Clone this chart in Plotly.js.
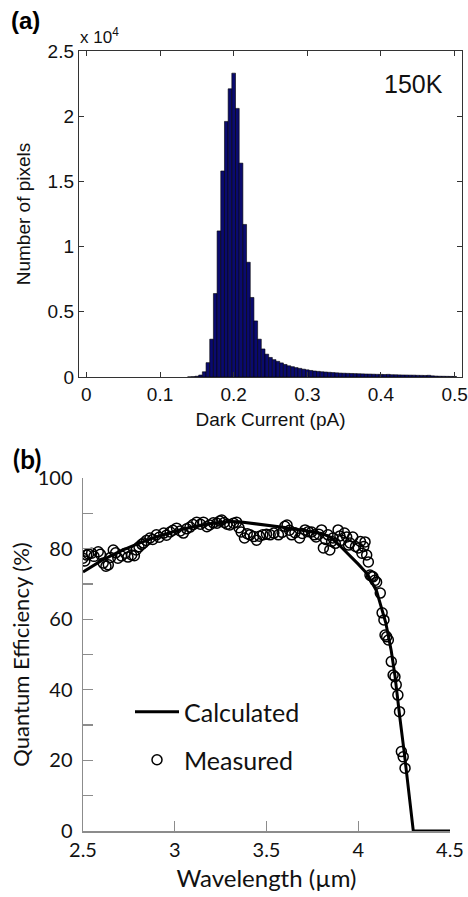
<!DOCTYPE html>
<html>
<head>
<meta charset="utf-8">
<script src="https://cdn.plot.ly/plotly-3.0.1.min.js"></script>
<style>html,body{margin:0;padding:0;background:#fff;}#chart{width:468px;height:897px;}</style>
</head>
<body>
<div id="chart"></div>
<script>
// ---------- Panel (a): dark current histogram at 150K ----------
const histCenters = [0.140,0.145,0.150,0.155,0.160,0.165,0.170,0.175,0.180,0.185,0.190,0.195,0.200,0.205,0.210,0.215,0.220,0.225,0.230,0.235,0.240,0.245,0.250,0.255,0.260,0.265,0.270,0.275,0.280,0.285,0.290,0.295,0.300,0.305,0.310,0.315,0.320,0.325,0.330,0.335,0.340,0.345,0.350,0.355,0.360,0.365,0.370,0.375,0.380,0.385,0.390,0.395,0.400,0.405,0.410,0.415,0.420,0.425,0.430,0.435,0.440,0.445,0.450,0.455,0.460,0.465,0.470,0.475,0.480,0.485,0.490,0.495,0.500];
const histCounts = [10,25,60,150,400,1100,2900,6400,11200,15800,19600,22100,23300,20600,16400,11700,8800,6100,4300,2900,2150,1750,1500,1330,1200,1080,960,860,790,720,660,600,550,500,460,430,400,380,360,340,320,300,290,280,270,260,250,240,230,225,215,205,200,190,200,175,170,160,155,150,145,140,130,125,120,130,90,70,60,55,50,45,40];
const histXTicks = [0,0.1,0.2,0.3,0.4,0.5];
const histXTickText = ['0','0.1','0.2','0.3','0.4','0.5'];
const histYTicks = [0,5000,10000,15000,20000,25000];
const histYTickText = ['0','0.5','1','1.5','2','2.5'];

// ---------- Panel (b): quantum efficiency ----------
const measWavelength = [2.500,2.510,2.520,2.530,2.547,2.560,2.583,2.595,2.610,2.625,2.638,2.650,2.665,2.678,2.690,2.710,2.730,2.745,2.765,2.780,2.790,2.805,2.820,2.830,2.845,2.865,2.880,2.900,2.915,2.940,2.955,2.975,2.990,3.010,3.030,3.047,3.065,3.083,3.100,3.120,3.140,3.156,3.175,3.190,3.210,3.230,3.245,3.256,3.270,3.285,3.300,3.320,3.337,3.350,3.362,3.380,3.395,3.410,3.430,3.446,3.462,3.480,3.500,3.520,3.540,3.565,3.585,3.600,3.612,3.625,3.637,3.655,3.680,3.695,3.710,3.728,3.746,3.760,3.770,3.785,3.800,3.810,3.822,3.835,3.845,3.855,3.862,3.875,3.890,3.900,3.910,3.925,3.937,3.947,3.955,3.970,3.985,4.000,4.012,4.020,4.030,4.037,4.046,4.055,4.064,4.073,4.080,4.090,4.100,4.120,4.130,4.140,4.146,4.155,4.164,4.180,4.190,4.200,4.207,4.216,4.225,4.235,4.245,4.255];
const measQE = [77.3,76.5,78.2,78.5,78.7,77.8,79.1,78.4,75.9,75.0,75.4,77.5,79.6,78.8,77.3,77.9,78.7,77.6,78.2,78.0,79.6,80.5,81.2,81.6,82.3,83.0,82.6,83.9,83.2,84.4,83.8,84.7,85.2,85.8,85.0,84.4,85.6,86.1,86.8,87.5,86.9,87.5,86.2,86.7,87.3,87.2,87.8,88.1,87.4,86.9,86.7,87.2,87.5,85.9,84.7,83.0,84.2,83.9,83.4,82.4,83.5,83.9,84.1,83.9,84.4,83.9,84.6,86.3,86.7,85.2,83.9,84.5,83.0,84.3,85.3,84.8,84.7,83.9,83.3,84.1,85.3,80.2,82.6,83.9,79.6,82.0,83.0,81.5,85.3,83.6,82.4,84.4,83.3,81.0,81.6,83.3,80.6,80.2,82.0,78.7,80.6,81.9,78.2,76.2,72.5,72.2,72.0,71.0,70.5,67.4,61.8,59.8,55.5,55.0,54.1,48.0,44.2,43.7,41.4,38.5,33.8,22.5,21.0,17.8];
const calcWavelength = [2.50,2.60,2.70,2.80,2.90,3.00,3.10,3.20,3.30,3.35,3.60,3.80,3.85,3.90,4.00,4.05,4.10,4.15,4.18,4.20,4.227,4.25,4.30,4.50];
const calcQE = [73.4,76.6,79.2,81.4,83.3,84.9,86.2,87.1,87.7,87.6,86.0,84.3,83.2,80.8,75.6,72.8,68.0,59.0,51.0,44.0,32.0,22.5,0,0];
const qeXTicks = [2.5,3,3.5,4,4.5];
const qeXTickText = ['2.5','3','3.5','4','4.5'];

const W = 468, H = 897;
const px = v => v / W;          // pixel -> paper x
const py = v => 1 - v / H;      // pixel -> paper y

const fontA = 'Liberation Sans, Arial, sans-serif';
const fontB = 'Lato, Open Sans, sans-serif';

const traces = [
  {
    type: 'bar', x: histCenters, y: histCounts, width: 0.005,
    xaxis: 'x', yaxis: 'y', showlegend: false,
    marker: { color: '#0a0a6e', line: { color: '#000000', width: 0.6 } },
    hoverinfo: 'skip'
  },
  {
    type: 'scatter', mode: 'lines', name: 'Calculated',
    x: calcWavelength, y: calcQE, xaxis: 'x2', yaxis: 'y2',
    line: { color: '#000000', width: 3 }, legend: 'legend'
  },
  {
    type: 'scatter', mode: 'markers', name: 'Measured',
    x: measWavelength, y: measQE, xaxis: 'x2', yaxis: 'y2',
    marker: { symbol: 'circle-open', size: 10, color: '#000000', line: { width: 1.5, color: '#000000' } },
    legend: 'legend2'
  }
];

const frameColor = '#333333';
const greyAxis = '#8c8c8c';

const layout = {
  width: W, height: H,
  margin: { l: 0, r: 0, t: 0, b: 0 },
  paper_bgcolor: '#ffffff', plot_bgcolor: '#ffffff',
  bargap: 0,
  xaxis: {
    domain: [px(79), px(462)], anchor: 'y',
    range: [-0.01, 0.51], tickvals: histXTicks, ticktext: histXTickText,
    ticks: 'inside', ticklen: 5, tickcolor: frameColor, mirror: 'ticks',
    showline: true, linecolor: frameColor, linewidth: 1.2, showgrid: false, zeroline: false,
    tickfont: { family: fontA, size: 19, color: '#111' },
    title: { text: 'Dark Current (pA)', font: { family: fontA, size: 19, color: '#111' }, standoff: 8 }
  },
  yaxis: {
    domain: [py(377), py(51)], anchor: 'x',
    range: [0, 25000], tickvals: histYTicks, ticktext: histYTickText,
    ticks: 'inside', ticklen: 5, tickcolor: frameColor, mirror: 'ticks',
    showline: true, linecolor: frameColor, linewidth: 1.2, showgrid: false, zeroline: false,
    tickfont: { family: fontA, size: 19, color: '#111' },
    title: { text: 'Number of pixels', font: { family: fontA, size: 19, color: '#111' }, standoff: 12 }
  },
  xaxis2: {
    domain: [px(83), px(450)], anchor: 'y2',
    range: [2.5, 4.5], tickvals: qeXTicks, ticktext: qeXTickText,
    ticks: 'inside', ticklen: 10, tickcolor: greyAxis, tickwidth: 1.3,
    showline: true, linecolor: greyAxis, linewidth: 1.5, showgrid: false, zeroline: false,
    tickfont: { family: fontB, size: 20, color: '#111' },
    title: { text: 'Wavelength (µm)', font: { family: fontB, size: 24, color: '#111' }, standoff: 10 }
  },
  yaxis2: {
    domain: [py(831), py(478)], anchor: 'x2',
    range: [0, 100], dtick: 20, tick0: 0,
    ticks: 'inside', ticklen: 10, tickcolor: greyAxis, tickwidth: 1.3, ticklabelstandoff: 5,
    minor: { dtick: 10, ticks: 'inside', ticklen: 10, tickcolor: greyAxis, tickwidth: 1.3 },
    showline: true, linecolor: greyAxis, linewidth: 1.5, showgrid: false, zeroline: false,
    tickfont: { family: fontB, size: 20, color: '#111' },
    title: { text: 'Quantum Efficiency (%)', font: { family: fontB, size: 22, color: '#111' }, standoff: 2 }
  },
  legend: {
    x: px(130), y: py(689), xanchor: 'left', yanchor: 'top', itemwidth: 44,
    bgcolor: 'rgba(0,0,0,0)', font: { family: fontB, size: 25, color: '#111' }
  },
  legend2: {
    x: px(130), y: py(737), xanchor: 'left', yanchor: 'top', itemwidth: 44,
    bgcolor: 'rgba(0,0,0,0)', font: { family: fontB, size: 25, color: '#111' }
  },
  annotations: [
    { text: '<b>(a)</b>', xref: 'paper', yref: 'paper', x: px(9), y: py(5), xanchor: 'left', yanchor: 'top',
      showarrow: false, font: { family: fontA, size: 24, color: '#000' } },
    { text: 'x 10<sup>4</sup>', xref: 'paper', yref: 'paper', x: px(78), y: py(49), xanchor: 'left', yanchor: 'bottom',
      showarrow: false, font: { family: fontA, size: 17, color: '#111' } },
    { text: '150K', xref: 'paper', yref: 'paper', x: px(445), y: py(84), xanchor: 'right', yanchor: 'middle',
      showarrow: false, font: { family: fontA, size: 25, color: '#111' } },
    { text: '<b>(b)</b>', xref: 'paper', yref: 'paper', x: px(11), y: py(441), xanchor: 'left', yanchor: 'top',
      showarrow: false, font: { family: fontB, size: 26, color: '#000' } }
  ]
};

Plotly.newPlot('chart', traces, layout, { displayModeBar: false, staticPlot: true });
</script>
</body>
</html>
